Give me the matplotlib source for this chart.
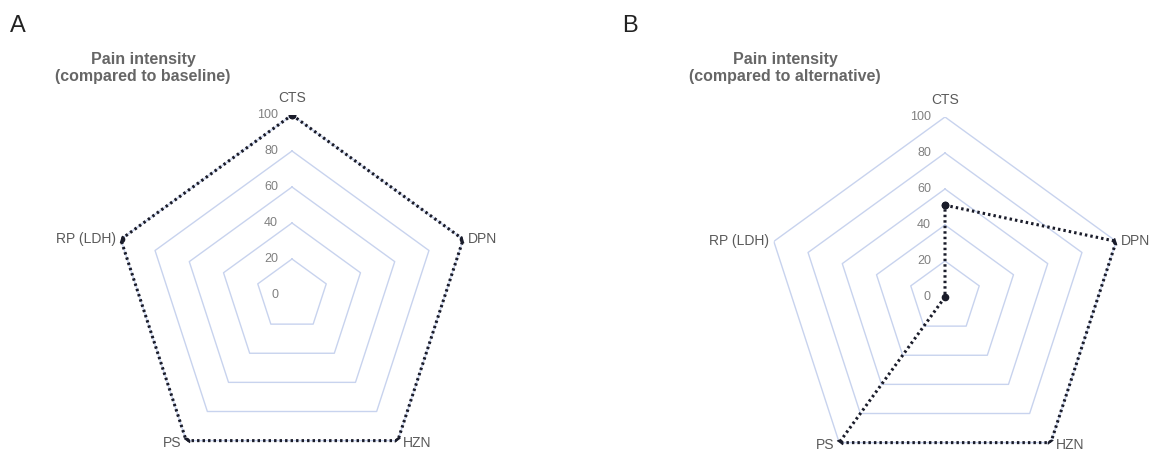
"""Radar charts of pain intensity (panels A and B)."""

import numpy as np
import matplotlib
matplotlib.use("Agg")
import matplotlib.pyplot as plt

plt.rcParams['font.family'] = ['Liberation Sans', 'DejaVu Sans']

categories = ["CTS", "DPN", "HZN", "PS", "RP (LDH)"]
ring_levels = [0, 20, 40, 60, 80, 100]
baseline_values = [100, 100, 100, 100, 100]
alternative_values = [51, 100, 100, 100, 0]
panel_titles = ["Pain intensity\n(compared to baseline)",
                "Pain intensity\n(compared to alternative)"]
panel_letters = ["A", "B"]

W, H = 1162, 457
GRID = "#c8d3ee"
LINE = "#1a1c2a"
TEXT = "#5a5a5a"


def radar(fig, cx, cy, values, title, title_x, letter, letter_x):
    r_px = 180
    ax = fig.add_axes([(cx - r_px) / W, (H - cy - r_px) / H,
                       2 * r_px / W, 2 * r_px / H], projection="polar")
    ax.set_theta_offset(np.pi / 2)
    ax.set_theta_direction(-1)
    ax.set_ylim(0, 100)
    ax.grid(False)
    ax.set_xticks([])
    ax.set_yticks([])
    ax.spines["polar"].set_visible(False)
    ax.patch.set_visible(False)

    n = len(categories)
    angles = np.linspace(0, 2 * np.pi, n, endpoint=False)
    closed = np.append(angles, angles[0])

    for lvl in ring_levels[1:]:
        ax.plot(closed, [lvl] * (n + 1), color=GRID, lw=1, zorder=1)

    for lvl in ring_levels:
        ax.annotate(str(lvl), xy=(0, lvl), xytext=(-14, 0),
                    textcoords="offset pixels", ha="right", va="center",
                    fontsize=9, color="#808080")

    vals = np.append(values, values[0])
    ax.plot(closed, vals, color=LINE, lw=2.2, dashes=(0.8, 1.0),
            marker="o", markersize=4.5, zorder=3)

    for ang, name in zip(angles, categories):
        sx = np.sin(ang)
        cy_dir = np.cos(ang)
        if abs(sx) < 0.1:
            ha, off = "center", (0, 10)
            va = "bottom"
        elif sx > 0:
            ha, off = "left", (5, -2 if cy_dir < 0 else 0)
            va = "center"
        else:
            ha, off = "right", (-5, -2 if cy_dir < 0 else 0)
            va = "center"
        ax.annotate(name, xy=(ang, 100), xytext=off,
                    textcoords="offset pixels", ha=ha, va=va,
                    fontsize=10, color=TEXT)

    fig.text(title_x / W, 1 - 68 / H, title, ha="center", va="center",
             fontsize=11.5, fontweight="bold", color="#666666",
             linespacing=1.1)
    fig.text(letter_x / W, 1 - 26 / H, letter, ha="left", va="center",
             fontsize=17, color="#222222")
    return ax


fig = plt.figure(figsize=(W / 100, H / 100), dpi=100)
radar(fig, 292, 295, baseline_values, panel_titles[0], 143,
      panel_letters[0], 10)
radar(fig, 945, 297, alternative_values, panel_titles[1], 785,
      panel_letters[1], 622)
fig.savefig("out.png", dpi=100)
plt.close(fig)
